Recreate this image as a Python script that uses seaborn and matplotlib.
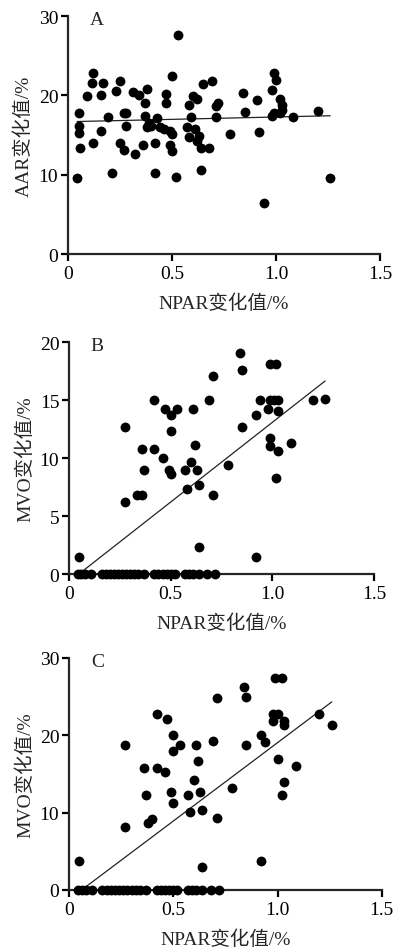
import matplotlib
matplotlib.use('Agg')
import matplotlib.pyplot as plt
import seaborn as sns
import numpy as np

# panel A: NPAR change vs AAR change
npar_a = [0.043, 0.051, 0.051, 0.051, 0.059, 0.12, 0.117, 0.119, 0.09, 0.16, 0.16, 0.17, 0.19,
          0.21, 0.23, 0.25, 0.25, 0.27, 0.27, 0.28, 0.28, 0.31, 0.32, 0.34, 0.36, 0.37, 0.38,
          0.37, 0.38, 0.39, 0.40, 0.42, 0.42, 0.43, 0.44, 0.47, 0.47, 0.46, 0.49, 0.49, 0.50,
          0.50, 0.50, 0.52, 0.53, 0.57, 0.58, 0.58, 0.59, 0.60, 0.62, 0.61, 0.62, 0.63, 0.64,
          0.65, 0.64, 0.68, 0.69, 0.71, 0.71, 0.72, 0.78, 0.84, 0.85, 0.91, 0.92, 0.94, 0.98,
          0.98, 0.99, 0.99, 1.00, 1.02, 1.02, 1.03, 1.03, 1.08, 1.20, 1.26]
aar = [9.6, 17.8, 16.2, 15.2, 13.4, 22.8, 21.5, 14.0, 19.9, 20.0, 15.5, 21.5, 17.3,
       10.2, 20.6, 21.8, 14.0, 13.1, 17.8, 17.8, 16.1, 20.4, 12.6, 20.0, 13.7, 19.1, 20.8,
       17.4, 16.0, 16.5, 16.2, 14.0, 10.2, 17.2, 16.0, 20.2, 19.1, 15.8, 15.5, 13.7, 13.0,
       15.1, 22.4, 9.7, 27.6, 16.0, 14.7, 18.8, 17.3, 19.9, 19.6, 15.8, 14.3, 14.9, 13.4,
       21.4, 10.6, 13.4, 21.8, 18.6, 17.3, 19.1, 15.1, 20.3, 17.9, 19.4, 15.4, 6.4, 20.7,
       17.4, 22.8, 17.8, 22.0, 19.6, 17.8, 18.8, 18.1, 17.3, 18.0, 9.6]

# patients with no MVO change (shared by B and C)
npar_zero = [0.045, 0.06, 0.08, 0.11, 0.16, 0.18, 0.20, 0.22, 0.24, 0.26, 0.28, 0.30, 0.32,
             0.34, 0.37, 0.42, 0.44, 0.46, 0.48, 0.50, 0.52, 0.57, 0.59, 0.61, 0.64, 0.68, 0.72]

# panel B
npar_b = [0.049, 0.274, 0.274, 0.335, 0.358, 0.36, 0.37, 0.42, 0.42, 0.46, 0.47, 0.49, 0.50,
          0.50, 0.50, 0.53, 0.57, 0.58, 0.60, 0.61, 0.62, 0.63, 0.64, 0.64, 0.69, 0.71, 0.71,
          0.78, 0.84, 0.85, 0.85, 0.92, 0.92, 0.94, 0.98, 0.99, 0.99, 0.99, 0.99, 1.02, 1.01,
          1.03, 1.03, 1.03, 1.02, 1.09, 1.20, 1.26]
mvo_b = [1.5, 12.7, 6.2, 6.85, 6.85, 10.8, 9.0, 15.0, 10.8, 10.0, 14.2, 9.0, 8.6,
         13.7, 12.3, 14.2, 9.0, 7.3, 9.7, 14.2, 11.1, 9.0, 7.7, 2.3, 15.0, 17.1, 6.85,
         9.4, 19.05, 17.6, 12.7, 1.5, 13.7, 15.0, 14.2, 11.7, 11.0, 18.1, 15.0, 18.1, 15.0,
         15.0, 14.1, 10.6, 8.3, 11.3, 15.0, 15.05]

# panel C
npar_c = [0.05, 0.27, 0.27, 0.36, 0.37, 0.377, 0.40, 0.42, 0.42, 0.46, 0.47, 0.49, 0.50,
          0.50, 0.50, 0.53, 0.57, 0.58, 0.60, 0.61, 0.62, 0.63, 0.64, 0.64, 0.69, 0.71, 0.71,
          0.78, 0.84, 0.85, 0.85, 0.92, 0.92, 0.94, 0.98, 0.98, 0.99, 1.00, 1.00, 1.02, 1.02,
          1.03, 1.03, 1.03, 1.09, 1.20, 1.26]
mvo_c = [3.7, 18.8, 8.2, 15.75, 12.3, 8.7, 9.2, 22.8, 15.75, 15.2, 22.05, 12.7, 20.0,
         18.0, 11.2, 18.8, 12.3, 10.1, 14.2, 18.8, 16.7, 12.7, 10.3, 3.0, 19.25, 24.8, 9.3,
         13.2, 26.2, 24.9, 18.8, 20.0, 3.8, 19.2, 21.9, 22.8, 27.4, 16.9, 22.8, 27.4, 12.3,
         21.9, 21.3, 14.0, 16.0, 22.8, 21.3]

panels = [
    ('A', npar_a, aar, 'AAR变化值/%', [0, 10, 20, 30], [0.1705, 0.7324, 0.782, 0.2497]),
    ('B', npar_b + npar_zero, mvo_b + [0] * len(npar_zero), 'MVO变化值/%', [0, 5, 10, 15, 20],
     [0.173, 0.3966, 0.764, 0.2434]),
    ('C', npar_c + npar_zero, mvo_c + [0] * len(npar_zero), 'MVO变化值/%', [0, 10, 20, 30],
     [0.173, 0.0651, 0.784, 0.2434]),
]

sns.set_style('ticks')
plt.rcParams['font.family'] = ['Liberation Serif', 'Noto Sans CJK SC']
plt.rcParams['axes.linewidth'] = 1.6
plt.rcParams['xtick.major.width'] = 1.6
plt.rcParams['ytick.major.width'] = 1.6
plt.rcParams['xtick.major.size'] = 5
plt.rcParams['ytick.major.size'] = 5
plt.rcParams['xtick.major.pad'] = 3
plt.rcParams['ytick.major.pad'] = 2

fig = plt.figure(figsize=(3.99, 9.53), dpi=100)

for letter, x, y, ylab, yticks, rect in panels:
    ax = fig.add_axes(rect)
    sns.regplot(x=x, y=y, ax=ax, ci=None, truncate=True,
                scatter_kws=dict(s=50, color='black', linewidths=0, clip_on=False, alpha=1, zorder=5),
                line_kws=dict(color='#222222', lw=0.9))
    ax.set_xlim(0, 1.5)
    ax.set_ylim(0, yticks[-1])
    ax.set_xticks([0, 0.5, 1.0, 1.5])
    ax.set_xticklabels(['0', '0.5', '1.0', '1.5'])
    ax.set_yticks(yticks)
    ax.set_yticklabels([str(t) for t in yticks])
    ax.tick_params(labelsize=14, colors='black')
    ax.set_xlabel('NPAR变化值/%', fontsize=14, labelpad=8)
    ax.set_ylabel(ylab, fontsize=14, labelpad=4)
    ax.text(0.07, 0.985, letter, transform=ax.transAxes, fontsize=14, va='center', ha='left')
    sns.despine(ax=ax)

fig.savefig('out.png', dpi=100)
